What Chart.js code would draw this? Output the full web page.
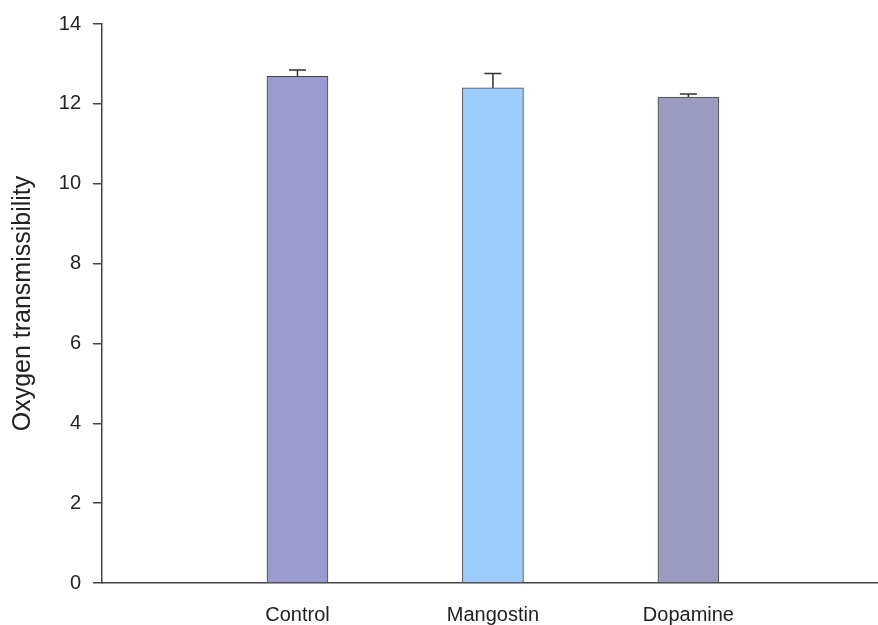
<!DOCTYPE html>
<html>
<head>
<meta charset="utf-8">
<script src="https://cdn.jsdelivr.net/npm/chart.js@4"></script>
<style>
  html, body { margin: 0; padding: 0; background: #fff; }
  #wrap { width: 878px; height: 625px; }
</style>
</head>
<body>
<div id="wrap"><canvas id="chart" width="878" height="625"></canvas></div>
<script>
const categories = ['Control', 'Mangostin', 'Dopamine'];
const values = [12.69, 12.40, 12.17];
const errors = [0.16, 0.36, 0.08];
const barColors = ['#9b9bd2', '#9ccdfd', '#9b9abf'];
const yTicks = [0, 2, 4, 6, 8, 10, 12, 14];

// draws the upper half of each error bar with a cap
const errorBars = {
  id: 'errorBars',
  afterDatasetsDraw(chart) {
    const { ctx, scales: { x, y } } = chart;
    ctx.save();
    ctx.strokeStyle = '#333';
    ctx.lineWidth = 1.5;
    values.forEach((v, i) => {
      const px = x.getPixelForValue(i + 1);
      const top = y.getPixelForValue(v + errors[i]);
      const base = y.getPixelForValue(v);
      ctx.beginPath();
      ctx.moveTo(px, base);
      ctx.lineTo(px, top);
      ctx.moveTo(px - 8.5, top);
      ctx.lineTo(px + 8.5, top);
      ctx.stroke();
    });
    ctx.restore();
  }
};

const ctx = document.getElementById('chart').getContext('2d');
new Chart(ctx, {
  type: 'bar',
  data: {
    datasets: [{
      data: categories.map((c, i) => ({ x: i + 1, y: values[i] })),
      backgroundColor: barColors,
      borderColor: '#444',
      borderWidth: 1,
      barThickness: 61
    }]
  },
  options: {
    responsive: false,
    animation: false,
    layout: { autoPadding: false, padding: { top: 19, left: 0, right: 0, bottom: 0 } },
    plugins: { legend: { display: false }, tooltip: { enabled: false } },
    scales: {
      x: {
        type: 'linear',
        min: 0,
        max: 3.97,
        offset: false,
        grid: { display: false, offset: false },
        border: { display: true, color: '#444', width: 1.5 },
        ticks: {
          stepSize: 1,
          autoSkip: false,
          includeBounds: false,
          maxRotation: 0,
          padding: 12,
          color: '#222',
          font: { family: 'Liberation Sans, Arial', size: 20 },
          callback: v => categories[v - 1] || ''
        },
        afterFit: s => { s.height = 42; }
      },
      y: {
        min: 0,
        max: 14,
        afterBuildTicks: s => { s.ticks = yTicks.map(v => ({ value: v })); },
        grid: { drawOnChartArea: false, tickLength: 9, color: '#444', lineWidth: 1.5 },
        border: { display: true, color: '#444', width: 1.5 },
        ticks: {
          padding: 12,
          color: '#222',
          font: { family: 'Liberation Sans, Arial', size: 20 }
        },
        title: {
          display: true,
          text: 'Oxygen transmissibility',
          color: '#222',
          font: { family: 'Liberation Sans, Arial', size: 25 },
          padding: { top: 8, bottom: 14 }
        },
        afterFit: s => { s.width = 102; }
      }
    }
  },
  plugins: [errorBars]
});
</script>
</body>
</html>
